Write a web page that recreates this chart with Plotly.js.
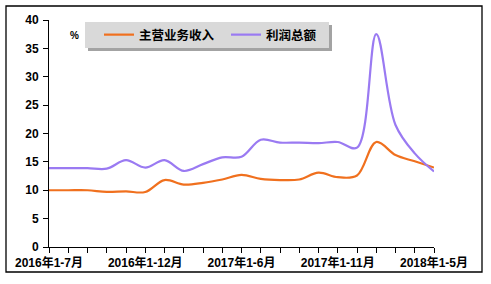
<!DOCTYPE html>
<html>
<head>
<meta charset="utf-8">
<script src="https://cdn.plot.ly/plotly-3.0.1.min.js"></script>
<style>
html,body{margin:0;padding:0;background:#fff;}
#chart{width:491px;height:284px;}
</style>
</head>
<body>
<div id="chart"></div>
<script>
const categories = [
  "2016年1-7月","2016年1-8月","2016年1-9月","2016年1-10月","2016年1-11月","2016年1-12月",
  "2017年1-2月","2017年1-3月","2017年1-4月","2017年1-5月","2017年1-6月","2017年1-7月",
  "2017年1-8月","2017年1-9月","2017年1-10月","2017年1-11月","2017年1-12月",
  "2018年1-2月","2018年1-3月","2018年1-4月","2018年1-5月"
];
const revenue = [10.0,10.0,10.0,9.7,9.8,9.7,11.8,11.0,11.3,11.9,12.7,12.0,11.8,11.9,13.1,12.3,12.6,18.5,16.2,15.1,14.0];
const profit  = [13.9,13.9,13.9,13.8,15.3,14.0,15.3,13.4,14.6,15.8,15.9,18.9,18.4,18.4,18.3,18.5,17.5,37.5,21.5,16.5,13.3];
const seriesNames = ["主营业务收入","利润总额"];
const labeledTicks = ["2016年1-7月","2016年1-12月","2017年1-6月","2017年1-11月","2018年1-5月"];
const yTicks = [0,5,10,15,20,25,30,35,40];

const W = 491, H = 284;
const M = {l:49, r:57, t:20, b:37};
const pw = W - M.l - M.r, ph = H - M.t - M.b;
const px = x => (x - M.l) / pw;
const py = y => (H - M.b - y) / ph;

const fontFam = "Arial, 'Liberation Sans', 'Noto Sans CJK SC', sans-serif";

const traces = [
  {x: categories, y: revenue, name: seriesNames[0], type: 'scatter', mode: 'lines',
   line: {color: '#F0701E', width: 2.2, shape: 'spline', smoothing: 1}},
  {x: categories, y: profit, name: seriesNames[1], type: 'scatter', mode: 'lines',
   line: {color: '#9A7AF2', width: 2.2, shape: 'spline', smoothing: 1}}
];

const layout = {
  width: W, height: H,
  margin: M,
  paper_bgcolor: '#ffffff', plot_bgcolor: '#ffffff',
  font: {family: fontFam, size: 12, color: '#000', weight: 'bold'},
  showlegend: true,
  legend: {
    orientation: 'h', x: px(99), y: py(35), xanchor: 'left', yanchor: 'middle',
    bgcolor: 'rgba(0,0,0,0)', borderwidth: 0,
    font: {family: fontFam, size: 12.5, color: '#000', weight: 'bold'},
    entrywidth: 82, itemwidth: 30
  },
  xaxis: {
    type: 'category', range: [0, categories.length - 1],
    showgrid: false, zeroline: false,
    showline: true, linecolor: '#000', linewidth: 1,
    ticks: 'outside', ticklen: 5, tickcolor: '#000', tickwidth: 1,
    tickvals: categories,
    ticktext: categories.map(c => labeledTicks.includes(c) ? c : ''),
    tickangle: 0,
    tickfont: {family: fontFam, size: 12, color: '#000', weight: 'bold'}
  },
  yaxis: {
    range: [0, 40], tickvals: yTicks,
    showgrid: false, zeroline: false,
    showline: true, linecolor: '#000', linewidth: 1,
    ticks: 'outside', ticklen: 5, tickcolor: '#000', tickwidth: 1,
    ticklabelstandoff: 2,
    tickfont: {family: fontFam, size: 12, color: '#000', weight: 'bold'}
  },
  annotations: [
    {text: '%', xref: 'paper', yref: 'paper', x: px(68), y: py(28), showarrow: false,
     font: {family: fontFam, size: 10, color: '#000', weight: 'bold'}}
  ],
  shapes: [
    {type: 'rect', xref: 'paper', yref: 'paper', x0: px(6), x1: px(482), y0: py(6), y1: py(272),
     line: {color: '#000', width: 1.3}, fillcolor: 'rgba(0,0,0,0)', layer: 'below'},
    {type: 'rect', xref: 'paper', yref: 'paper', x0: px(88), x1: px(332), y0: py(25), y1: py(51),
     line: {width: 0}, fillcolor: '#a3a3a3', layer: 'above'},
    {type: 'rect', xref: 'paper', yref: 'paper', x0: px(85), x1: px(329), y0: py(22), y1: py(48),
     line: {width: 0}, fillcolor: '#d9d9d9', layer: 'above'}
  ]
};

Plotly.newPlot('chart', traces, layout, {displayModeBar: false, staticPlot: true});
</script>
</body>
</html>
